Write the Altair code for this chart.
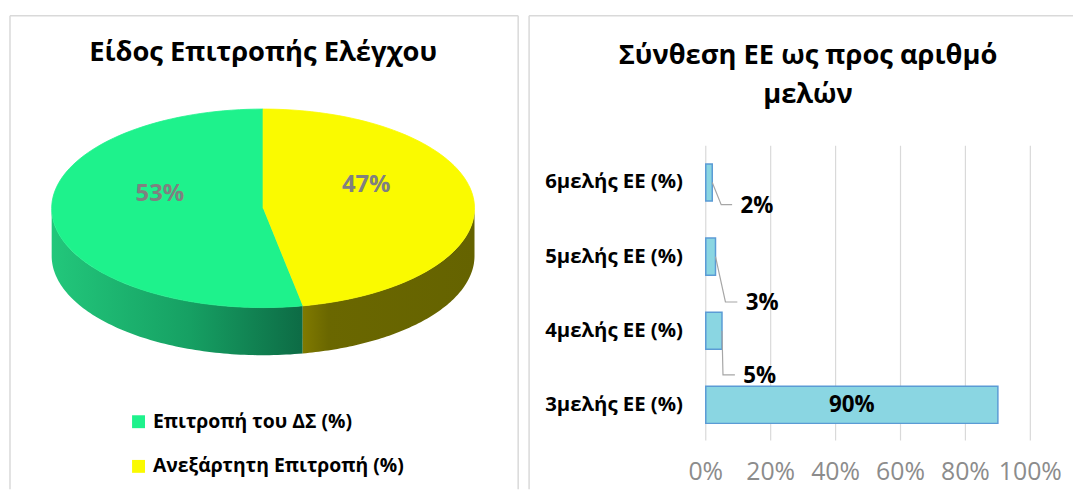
import altair as alt
import pandas as pd

# ---------------- data ----------------
pie_title = "Είδος Επιτροπής Ελέγχου"
pie_categories = ["Επιτροπή του ΔΣ (%)", "Ανεξάρτητη Επιτροπή (%)"]
pie_values = [53, 47]

bar_title = ["Σύνθεση ΕΕ ως προς αριθμό", "μελών"]
bar_categories = ["3μελής ΕΕ (%)", "4μελής ΕΕ (%)", "5μελής ΕΕ (%)", "6μελής ΕΕ (%)"]
bar_values = [90, 5, 3, 2]
x_ticks = [0, 20, 40, 60, 80, 100]
x_tick_labels = ["0%", "20%", "40%", "60%", "80%", "100%"]

# ---------------- style / layout ----------------
FONT = "Open Sans"
GREEN = "#1ef28c"
YELLOW = "#fafa00"
BAR_FILL = "#8ad6e2"
BAR_STROKE = "#5b9bd5"
GRID = "#d9d9d9"
BORDER = "#d9d9d9"

LW, RW, H = 512, 548, 477

# pie geometry (pixels inside left panel)
CX, CY, RX, RY, DEPTH = 255, 194, 213, 100, 48
N = 90
LABEL_F, LABEL_DY = 0.49, -19
LEG_X_SQ, LEG_X_TXT, LEG_Y0, LEG_STEP = 129.5, 144, 409, 45

# bar panel geometry
X0_PX, X100_PX = 178, 505
Y_BOTTOM, Y_TOP = 392, 168
PX_PER_PCT = (X100_PX - X0_PX) / 100
PX_PER_ROW = (Y_BOTTOM - Y_TOP) / (len(bar_categories) - 1)
# outside-label placement per row (pixels): label centre dx, label drop dy, leader elbow, leader end
lab_dx = [0, 38, 47, 45]
lab_dy = [0, 45.5, 46.7, 23.3]
lead_e1 = [0, 1, 10, 9]
lead_e2 = [0, 13, 22, 20]

xs = alt.Scale(domain=[0, LW], range=[0, LW], nice=False, zero=False)
ys = alt.Scale(domain=[0, H], range=[0, H], nice=False, zero=False)
pie_color = alt.Scale(domain=pie_categories, range=[GREEN, YELLOW])

one = pd.DataFrame({"z": [0]})


def border(width, sides):
    layers = []
    if "top" in sides:
        layers.append(alt.Chart(one).mark_rule(color=BORDER, strokeWidth=1.5).encode(
            x=alt.value(0), x2=alt.value(width), y=alt.value(0)))
    if "left" in sides:
        layers.append(alt.Chart(one).mark_rule(color=BORDER, strokeWidth=1.5).encode(
            x=alt.value(0), y=alt.value(0), y2=alt.value(H)))
    if "right" in sides:
        layers.append(alt.Chart(one).mark_rule(color=BORDER, strokeWidth=1.5).encode(
            x=alt.value(width), y=alt.value(0), y2=alt.value(H)))
    return layers


# ---------------- left panel: 3D-like pie ----------------
pie_df = pd.DataFrame({"category": pie_categories, "value": pie_values,
                       "i": list(range(len(pie_values)))})

pie_base = alt.Chart(pie_df).transform_joinaggregate(
    total="sum(value)"
).transform_window(
    cum="sum(value)", sort=[alt.SortField("i")], frame=[None, 0]
).transform_calculate(
    t0="1 - datum.cum / datum.total",
    t1="1 - (datum.cum - datum.value) / datum.total",
)

pxy = dict(
    x=alt.X("px:Q", scale=xs, axis=None),
    y=alt.Y("py:Q", scale=ys, axis=None),
    order=alt.Order("k:Q"),
)

side_base = pie_base.transform_calculate(
    a="max(datum.t0, 0.25)", b="min(datum.t1, 0.75)"
).transform_filter("datum.a < datum.b").transform_calculate(
    k=f"sequence(0, {2 * N})"
).transform_flatten(["k"]).transform_calculate(
    t=f"datum.k < {N} ? datum.a + (datum.b - datum.a) * datum.k / {N - 1} : datum.b - (datum.b - datum.a) * (datum.k - {N}) / {N - 1}",
    px=f"{CX} + {RX} * sin(2 * PI * datum.t)",
    py=f"{CY} - {RY} * cos(2 * PI * datum.t) + (datum.k < {N} ? 0 : {DEPTH})",
)

shadow = side_base.mark_line(filled=True, fill="#000000", fillOpacity=0.12, strokeWidth=0).encode(
    x=alt.X("px:Q", scale=xs, axis=None),
    y=alt.Y("sy:Q", scale=ys, axis=None),
    order=alt.Order("k:Q"),
).transform_calculate(sy="datum.py + 3")

green_side = side_base.transform_filter("datum.i == 0").mark_line(
    filled=True, strokeWidth=0,
    fill=alt.LinearGradient(gradient="linear", x1=0, x2=1, y1=0, y2=0, stops=[
        alt.GradientStop(color="#22c77b", offset=0),
        alt.GradientStop(color="#16a063", offset=0.55),
        alt.GradientStop(color="#0d6b45", offset=1),
    ]),
).encode(**pxy)

yellow_side = side_base.transform_filter("datum.i == 1").mark_line(
    filled=True, strokeWidth=0,
    fill=alt.LinearGradient(gradient="linear", x1=0, x2=1, y1=0, y2=0, stops=[
        alt.GradientStop(color="#807a00", offset=0),
        alt.GradientStop(color="#6a6700", offset=0.15),
        alt.GradientStop(color="#656300", offset=1),
    ]),
).encode(**pxy)

top_face = pie_base.transform_calculate(
    k=f"sequence(0, {N + 1})"
).transform_flatten(["k"]).transform_calculate(
    t=f"datum.t0 + (datum.t1 - datum.t0) * max(datum.k - 1, 0) / {N - 1}",
    px=f"datum.k == 0 ? {CX} : {CX} + {RX} * sin(2 * PI * datum.t)",
    py=f"datum.k == 0 ? {CY} : {CY} - {RY} * cos(2 * PI * datum.t)",
).mark_line(filled=True, strokeWidth=0.8).encode(
    color=alt.Color("category:N", scale=pie_color, legend=None),
    stroke=alt.Stroke("category:N", scale=pie_color, legend=None),
    **pxy,
)

pie_labels = pie_base.transform_calculate(
    mid="(datum.t0 + datum.t1) / 2",
    lx=f"{CX} + {RX} * {LABEL_F} * sin(2 * PI * datum.mid)",
    ly=f"{CY} - {RY} * {LABEL_F} * cos(2 * PI * datum.mid) + {LABEL_DY}",
    lab="datum.value + '%'",
).mark_text(font=FONT, fontSize=24, fontWeight="bold", color="#808080").encode(
    x=alt.X("lx:Q", scale=xs, axis=None),
    y=alt.Y("ly:Q", scale=ys, axis=None),
    text="lab:N",
)

legend_base = alt.Chart(pie_df).transform_calculate(ly=f"{LEG_Y0} + datum.i * {LEG_STEP}")
legend_sq = legend_base.mark_square(size=169, filled=True, opacity=1).encode(
    x=alt.value(LEG_X_SQ),
    y=alt.Y("ly:Q", scale=ys, axis=None),
    color=alt.Color("category:N", scale=pie_color, legend=None),
)
legend_txt = legend_base.mark_text(
    font=FONT, fontSize=19.5, fontWeight="bold", color="#000000", align="left", baseline="middle"
).encode(
    x=alt.value(LEG_X_TXT),
    y=alt.Y("ly:Q", scale=ys, axis=None),
    text="category:N",
)

left_title = alt.Chart(pd.DataFrame({"t": [pie_title]})).mark_text(
    font=FONT, fontSize=27.5, fontWeight="bold", color="#000000", baseline="middle"
).encode(x=alt.value(255), y=alt.value(38), text="t:N")

left = alt.layer(
    *border(LW, ["top", "left", "right"]),
    left_title, shadow, green_side, yellow_side, top_face, pie_labels, legend_sq, legend_txt,
).properties(width=LW, height=H)

# ---------------- right panel: horizontal bars ----------------
bar_df = pd.DataFrame({"category": bar_categories, "value": bar_values,
                       "idx": list(range(len(bar_values)))})
tick_df = pd.DataFrame({"tick": x_ticks, "label": x_tick_labels})

xr = alt.Scale(domain=[0, 100], range=[X0_PX, X100_PX], nice=False, zero=False)
yr = alt.Scale(domain=[0, len(bar_categories) - 1], range=[Y_BOTTOM, Y_TOP], nice=False, zero=False)

grid = alt.Chart(tick_df).mark_rule(color=GRID, strokeWidth=1.2).encode(
    x=alt.X("tick:Q", scale=xr, axis=None), y=alt.value(131), y2=alt.value(428))

tick_text = alt.Chart(tick_df).mark_text(
    font=FONT, fontSize=25, color="#8c8c8c", baseline="middle").encode(
    x=alt.X("tick:Q", scale=xr, axis=None), y=alt.value(460), text="label:N")

bars = alt.Chart(bar_df).transform_calculate(
    y0="datum.idx - 0.25", y1="datum.idx + 0.25", zero="0"
).mark_rect(fill=BAR_FILL, stroke=BAR_STROKE, strokeWidth=1.5).encode(
    x=alt.X("value:Q", scale=xr, axis=None),
    x2="zero:Q",
    y=alt.Y("y0:Q", scale=yr, axis=None),
    y2="y1:Q",
)

cat_text = alt.Chart(bar_df).mark_text(
    font=FONT, fontSize=20.5, fontWeight="bold", color="#000000", align="right", baseline="middle"
).encode(
    x=alt.value(155),
    y=alt.Y("idx:Q", scale=yr, axis=None),
    text="category:N",
)

lab_base = alt.Chart(bar_df).transform_calculate(
    inside="datum.value >= 10",
    ldx=f"{lab_dx}[datum.idx]",
    ldy=f"{lab_dy}[datum.idx]",
    e1=f"{lead_e1}[datum.idx]",
    e2=f"{lead_e2}[datum.idx]",
    lab="datum.value + '%'",
)

val_text = lab_base.transform_calculate(
    lx=f"datum.inside ? datum.value / 2 : datum.value + datum.ldx / {PX_PER_PCT}",
    ly=f"datum.inside ? datum.idx : datum.idx - datum.ldy / {PX_PER_ROW}",
).mark_text(font=FONT, fontSize=22.5, fontWeight="bold", color="#000000", baseline="middle").encode(
    x=alt.X("lx:Q", scale=xr, axis=None),
    y=alt.Y("ly:Q", scale=yr, axis=None),
    text="lab:N",
)

leaders = lab_base.transform_filter("!datum.inside").transform_calculate(
    j="sequence(0, 3)"
).transform_flatten(["j"]).transform_calculate(
    lx=f"datum.j == 0 ? datum.value : datum.value + (datum.j == 1 ? datum.e1 : datum.e2) / {PX_PER_PCT}",
    ly=f"datum.j == 0 ? datum.idx : datum.idx - (datum.ldy - 1) / {PX_PER_ROW}",
).mark_line(color="#a6a6a6", strokeWidth=1.2).encode(
    x=alt.X("lx:Q", scale=xr, axis=None),
    y=alt.Y("ly:Q", scale=yr, axis=None),
    detail="category:N",
    order="j:Q",
)

right_title = alt.Chart(one).mark_text(
    font=FONT, fontSize=27.5, fontWeight="bold", color="#000000", baseline="middle",
    lineHeight=39, text=bar_title,
).encode(x=alt.value(281), y=alt.value(41))

right = alt.layer(
    *border(RW, ["top", "left"]),
    right_title, grid, tick_text, bars, leaders, cat_text, val_text,
).properties(width=RW, height=H)

chart = alt.hconcat(left, right, spacing=7).properties(
    padding={"left": 0, "top": 4, "right": 0, "bottom": 0}
).configure_view(stroke="transparent")

chart.save("out.html", embed_options={"renderer": "svg", "actions": False})
